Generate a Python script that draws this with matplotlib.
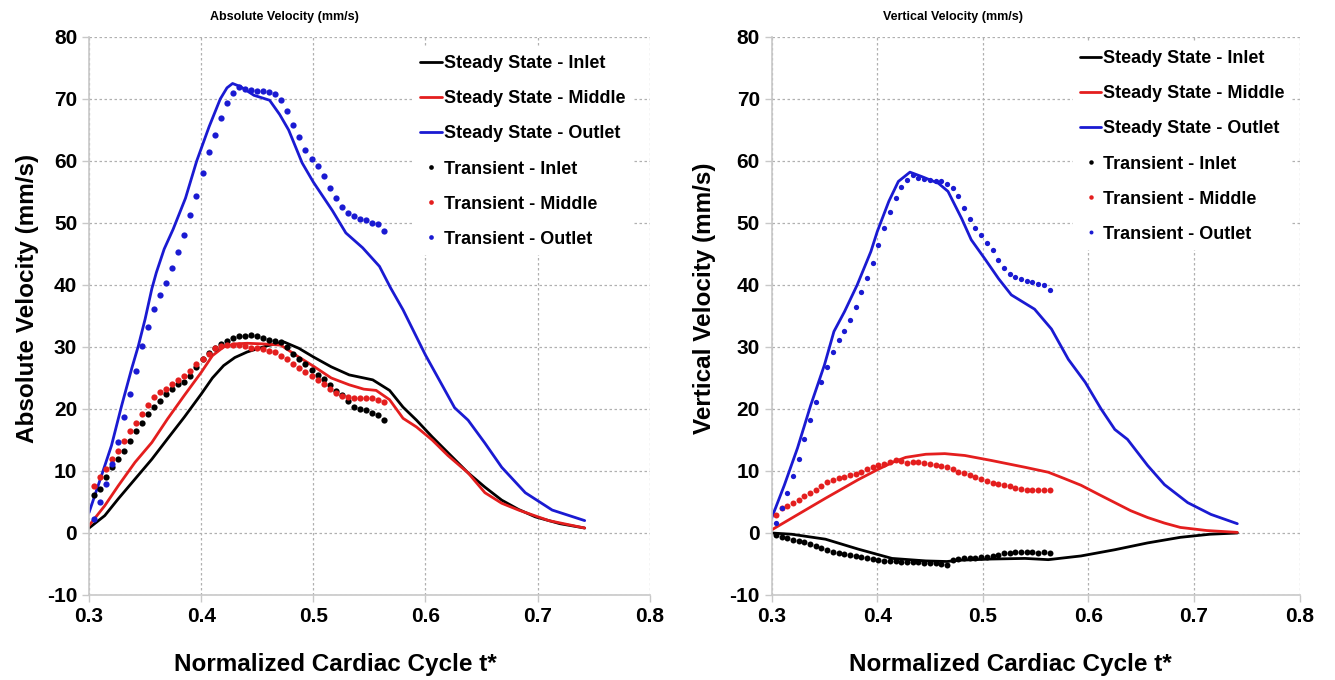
import numpy as np
import matplotlib
matplotlib.use("Agg")
import matplotlib.pyplot as plt

plt.rcParams["font.family"] = ["Liberation Sans", "DejaVu Sans"]
plt.rcParams["font.weight"] = "bold"
plt.rcParams["axes.unicode_minus"] = False

BLACK = "#000000"
RED = "#e41e1e"
BLUE = "#1a1ad2"

# ---- steady state, absolute velocity ----
abs_ss_inlet_t = [0.300, 0.314, 0.326, 0.341, 0.356, 0.370, 0.385, 0.400, 0.410, 0.420, 0.430, 0.441,
                  0.459, 0.474, 0.487, 0.500, 0.516, 0.532, 0.553, 0.568, 0.580, 0.592, 0.606, 0.622,
                  0.638, 0.653, 0.668, 0.683, 0.698, 0.720, 0.742]
abs_ss_inlet = [0.8, 2.8, 5.5, 8.7, 11.9, 15.2, 18.7, 22.4, 25.0, 27.0, 28.3, 29.2,
                30.2, 30.8, 29.8, 28.4, 26.8, 25.5, 24.7, 23.0, 20.3, 18.2, 15.5, 12.6,
                9.7, 7.4, 5.3, 3.8, 2.6, 1.5, 0.8]

abs_ss_middle_t = [0.300, 0.314, 0.326, 0.341, 0.356, 0.370, 0.385, 0.400, 0.410, 0.420, 0.430, 0.441,
                   0.455, 0.471, 0.486, 0.501, 0.516, 0.532, 0.545, 0.556, 0.568, 0.580, 0.592, 0.606,
                   0.620, 0.638, 0.653, 0.668, 0.683, 0.710, 0.742]
abs_ss_middle = [1.2, 4.4, 7.6, 11.4, 14.6, 18.4, 22.2, 25.9, 28.6, 30.0, 30.5, 30.6,
                 30.5, 30.3, 28.5, 26.8, 25.0, 23.9, 23.2, 23.0, 21.5, 18.5, 17.1, 15.0,
                 12.5, 9.7, 6.5, 4.8, 3.7, 2.0, 0.8]

abs_ss_outlet_t = [0.300, 0.311, 0.320, 0.329, 0.338, 0.344, 0.350, 0.356, 0.360, 0.367, 0.375, 0.386,
                   0.396, 0.407, 0.417, 0.423, 0.428, 0.435, 0.447, 0.461, 0.470, 0.478, 0.490, 0.500,
                   0.517, 0.529, 0.544, 0.559, 0.569, 0.580, 0.600, 0.626, 0.638, 0.653, 0.668, 0.689,
                   0.713, 0.742]
abs_ss_outlet = [3.3, 9.2, 14.1, 20.5, 26.5, 30.2, 34.5, 39.4, 42.0, 45.8, 49.0, 54.0,
                 60.0, 65.5, 70.0, 71.8, 72.5, 72.0, 70.6, 69.8, 67.5, 65.0, 59.7, 56.6,
                 52.0, 48.4, 46.0, 43.0, 39.5, 36.0, 28.7, 20.2, 18.2, 14.5, 10.6, 6.5,
                 3.7, 2.0]

# ---- transient samples (same time grid for every series) ----
tr_t = [0.304, 0.3094, 0.3148, 0.3202, 0.3256, 0.331, 0.3364, 0.3418, 0.3472, 0.3526,
        0.358, 0.3634, 0.3688, 0.3742, 0.3796, 0.385, 0.3904, 0.3958, 0.4012, 0.4066,
        0.412, 0.4174, 0.4228, 0.4282, 0.4336, 0.439, 0.4444, 0.4498, 0.4552, 0.4606,
        0.466, 0.4714, 0.4768, 0.4822, 0.4876, 0.493, 0.4984, 0.5038, 0.5092, 0.5146,
        0.52, 0.5254, 0.5308, 0.5362, 0.5416, 0.547, 0.5524, 0.5578, 0.5632]

abs_tr_inlet = [6.2, 7.1, 9.0, 10.6, 11.9, 13.3, 14.9, 16.5, 17.8, 19.2,
                20.3, 21.3, 22.4, 23.2, 24.0, 24.3, 25.4, 26.8, 28.0, 29.0,
                29.8, 30.5, 31.0, 31.5, 31.7, 31.8, 31.9, 31.7, 31.4, 31.1,
                31.0, 30.8, 30.0, 28.9, 28.0, 27.2, 26.3, 25.5, 24.8, 23.8,
                22.9, 22.3, 21.3, 20.3, 20.0, 19.8, 19.4, 19.0, 18.2]
abs_tr_middle = [7.6, 9.0, 10.3, 11.9, 13.3, 14.9, 16.5, 17.8, 19.2, 20.6,
                 21.9, 22.7, 23.2, 24.0, 24.6, 25.4, 26.2, 27.3, 28.1, 28.9,
                 29.9, 30.2, 30.3, 30.4, 30.3, 30.1, 29.9, 29.8, 29.6, 29.4,
                 29.2, 28.6, 28.0, 27.2, 26.6, 26.0, 25.4, 24.7, 24.1, 23.3,
                 22.6, 22.1, 21.9, 21.8, 21.8, 21.8, 21.8, 21.5, 21.1]
abs_tr_outlet = [2.3, 5.0, 7.9, 11.1, 14.6, 18.7, 22.4, 26.2, 30.1, 33.2,
                 36.2, 38.4, 40.3, 42.7, 45.4, 48.1, 51.3, 54.3, 58.0, 61.4,
                 64.2, 66.9, 69.3, 70.9, 72.0, 71.6, 71.4, 71.3, 71.3, 71.1,
                 70.8, 69.8, 68.0, 65.8, 63.8, 61.8, 60.3, 59.2, 57.6, 55.6,
                 54.0, 52.5, 51.6, 51.1, 50.7, 50.5, 50.0, 49.8, 48.7]

# ---- steady state, vertical velocity ----
ver_ss_inlet_t = [0.300, 0.319, 0.351, 0.382, 0.414, 0.446, 0.466, 0.477, 0.508, 0.540, 0.562, 0.593,
                  0.625, 0.656, 0.687, 0.715, 0.741]
ver_ss_inlet = [0.0, -0.2, -1.0, -2.6, -4.1, -4.5, -4.6, -4.4, -4.2, -4.1, -4.3, -3.7,
                -2.7, -1.6, -0.7, -0.2, 0.0]

ver_ss_middle_t = [0.300, 0.325, 0.351, 0.382, 0.400, 0.416, 0.427, 0.446, 0.464, 0.483, 0.508, 0.540,
                   0.562, 0.577, 0.593, 0.610, 0.625, 0.640, 0.656, 0.672, 0.687, 0.712, 0.741]
ver_ss_middle = [0.5, 3.0, 5.6, 8.6, 10.2, 11.5, 12.2, 12.7, 12.8, 12.5, 11.7, 10.6,
                 9.8, 8.8, 7.7, 6.2, 4.9, 3.6, 2.5, 1.6, 0.9, 0.4, 0.1]

ver_ss_outlet_t = [0.300, 0.312, 0.3245, 0.337, 0.350, 0.359, 0.369, 0.381, 0.394, 0.400, 0.411, 0.420,
                   0.431, 0.442, 0.458, 0.467, 0.480, 0.489, 0.502, 0.515, 0.527, 0.549, 0.565, 0.581,
                   0.597, 0.612, 0.625, 0.637, 0.656, 0.672, 0.694, 0.716, 0.741]
ver_ss_outlet = [2.4, 7.7, 13.7, 20.6, 27.1, 32.5, 35.7, 40.0, 45.4, 48.6, 53.5, 56.7,
                 58.2, 57.5, 56.4, 55.1, 50.7, 47.3, 44.2, 41.0, 38.4, 36.1, 32.9, 28.0,
                 24.3, 20.0, 16.7, 15.1, 10.9, 7.8, 4.9, 3.0, 1.5]

ver_tr_inlet = [-0.4, -0.6, -0.8, -1.1, -1.3, -1.5, -1.8, -2.1, -2.5, -2.7,
                -3.0, -3.2, -3.4, -3.6, -3.7, -3.9, -4.1, -4.2, -4.4, -4.5,
                -4.5, -4.5, -4.6, -4.6, -4.6, -4.7, -4.8, -4.8, -4.9, -5.0,
                -5.1, -4.3, -4.2, -4.1, -4.0, -4.0, -3.9, -3.8, -3.7, -3.5,
                -3.3, -3.2, -3.1, -3.0, -3.0, -3.1, -3.2, -3.0, -3.3]
ver_tr_middle = [2.9, 4.1, 4.4, 4.8, 5.3, 5.9, 6.4, 7.0, 7.6, 8.2,
                 8.5, 8.9, 9.1, 9.4, 9.5, 9.9, 10.3, 10.7, 11.0, 11.2,
                 11.5, 11.8, 11.6, 11.3, 11.5, 11.4, 11.3, 11.1, 11.0, 10.8,
                 10.6, 10.3, 9.9, 9.6, 9.3, 9.0, 8.7, 8.4, 8.1, 7.9,
                 7.7, 7.5, 7.3, 7.1, 7.0, 7.0, 6.9, 6.9, 6.9]
ver_tr_outlet = [1.6, 4.0, 6.4, 9.2, 11.9, 15.1, 18.2, 21.2, 24.3, 26.8,
                 29.2, 31.1, 32.6, 34.4, 36.5, 38.8, 41.2, 43.5, 46.5, 49.2,
                 51.8, 54.0, 55.8, 57.0, 57.7, 57.3, 57.1, 56.9, 56.7, 56.7,
                 56.3, 55.6, 54.3, 52.4, 50.6, 49.2, 48.0, 46.8, 45.6, 44.1,
                 42.8, 41.8, 41.3, 41.0, 40.7, 40.5, 40.2, 40.0, 39.2]

labels = ["Steady State - Inlet", "Steady State - Middle", "Steady State - Outlet",
          "Transient - Inlet", "Transient - Middle", "Transient - Outlet"]


def style_axes(ax, ylabel, xlab_x, ylab_x):
    ax.set_xlim(0.3, 0.8)
    ax.set_ylim(-10, 80)
    ax.set_xticks([0.3, 0.4, 0.5, 0.6, 0.7, 0.8])
    ax.set_yticks(range(-10, 81, 10))
    ax.grid(True, color="#b0b0b0", linestyle=(0, (2, 2)), linewidth=0.9)
    ax.set_axisbelow(True)
    for s in ["top", "right"]:
        ax.spines[s].set_visible(False)
    for s in ["left", "bottom"]:
        ax.spines[s].set_color("#c8c8c8")
        ax.spines[s].set_linewidth(1.2)
    ax.tick_params(colors="#c8c8c8", labelcolor="black", labelsize=15, length=5, width=1)
    for lab in ax.get_xticklabels() + ax.get_yticklabels():
        lab.set_fontweight("bold")
    ax.set_xlabel("Normalized Cardiac Cycle t*", fontsize=17.5, fontweight="bold", va="center")
    ax.set_ylabel(ylabel, fontsize=17.5, fontweight="bold", va="center")
    ax.xaxis.set_label_coords(xlab_x, -0.124)
    ax.yaxis.set_label_coords(ylab_x, 0.532)


fig = plt.figure(figsize=(13.35, 6.8), dpi=100)
ax1 = fig.add_axes([0.0667, 0.125, 0.420, 0.8206])
ax2 = fig.add_axes([0.578, 0.125, 0.3955, 0.8206])

lw = 2.0
kw = dict(solid_joinstyle="round", solid_capstyle="round")
ax1.plot(abs_ss_inlet_t, abs_ss_inlet, color=BLACK, lw=lw, label=labels[0], **kw)
ax1.plot(abs_ss_middle_t, abs_ss_middle, color=RED, lw=lw, label=labels[1], **kw)
ax1.plot(abs_ss_outlet_t, abs_ss_outlet, color=BLUE, lw=lw, label=labels[2], **kw)
ax1.plot(tr_t, abs_tr_inlet, "o", color=BLACK, ms=4.5, mew=0, label=labels[3])
ax1.plot(tr_t, abs_tr_middle, "o", color=RED, ms=4.5, mew=0, label=labels[4])
ax1.plot(tr_t, abs_tr_outlet, "o", color=BLUE, ms=4.5, mew=0, label=labels[5])

ax2.plot(ver_ss_inlet_t, ver_ss_inlet, color=BLACK, lw=lw, label=labels[0], **kw)
ax2.plot(ver_ss_middle_t, ver_ss_middle, color=RED, lw=lw, label=labels[1], **kw)
ax2.plot(ver_ss_outlet_t, ver_ss_outlet, color=BLUE, lw=lw, label=labels[2], **kw)
ax2.plot(tr_t, ver_tr_inlet, "o", color=BLACK, ms=4.3, mew=0, label=labels[3])
ax2.plot(tr_t, ver_tr_middle, "o", color=RED, ms=4.3, mew=0, label=labels[4])
ax2.plot(tr_t, ver_tr_outlet, "o", color=BLUE, ms=3.8, mew=0, label=labels[5])

style_axes(ax1, "Absolute Velocity (mm/s)", 0.440, -0.109)
style_axes(ax2, "Vertical Velocity (mm/s)", 0.453, -0.127)

for ax, anchor in [(ax1, (0.5775, 0.980)), (ax2, (0.570, 0.989))]:
    leg = ax.legend(loc="upper left", bbox_to_anchor=anchor, fontsize=13,
                    handlelength=1.2, handletextpad=0.1, labelspacing=1.0,
                    borderpad=0.4, borderaxespad=0, frameon=True, framealpha=1,
                    fancybox=False, markerscale=0.75)
    leg.get_frame().set_edgecolor("none")
    for txt in leg.get_texts():
        txt.set_fontweight("bold")

fig.text(284 / 1335, 1 - 17 / 680, "Absolute Velocity (mm/s)", ha="center", va="center",
         fontsize=9, fontweight="bold")
fig.text(953 / 1335, 1 - 17 / 680, "Vertical Velocity (mm/s)", ha="center", va="center",
         fontsize=9, fontweight="bold")

fig.savefig("out.png", dpi=100)
